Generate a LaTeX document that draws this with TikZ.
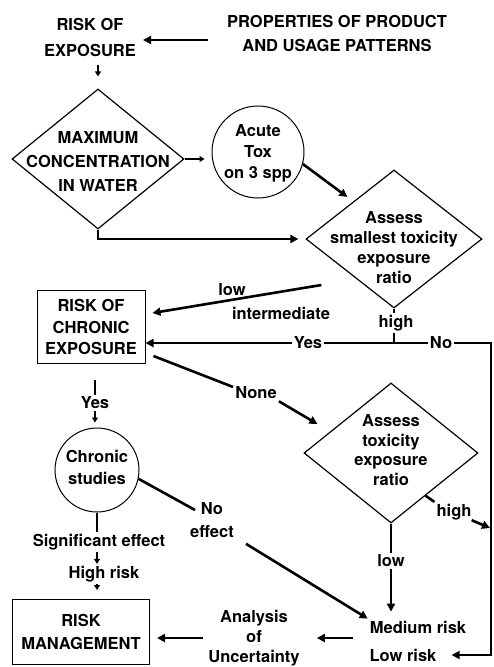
\documentclass[tikz,border=0pt]{standalone}
\usepackage{fontspec}
\setmainfont{TeX Gyre Heros}
\usetikzlibrary{shapes.geometric,arrows.meta}

\begin{document}
\begin{tikzpicture}[x=1pt,y=-1pt,
	txt/.style={font=\bfseries\fontsize{16.5}{#1}\selectfont, align=center, inner sep=2pt},
	txt/.default=24,
	dia/.style={draw, diamond, line width=1.2pt, inner sep=0pt},
	circ/.style={draw, circle, line width=1pt, inner sep=0pt},
	boxed/.style={draw, rectangle, line width=1pt},
	ln/.style={line width=2.6pt},
	arr/.style={ln, -{Triangle[length=8pt,width=8pt]}},
	smallarr/.style={ln, -{Triangle[length=5pt,width=6pt]}}]
		\useasboundingbox (0,0) rectangle (493,667);
		% shapes
		\node[dia, minimum width=172pt, minimum height=140pt] (maxd) at (98,159) {};
		\node[txt] (maxt) at (98,161) {MAXIMUM\\CONCENTRATION\\IN WATER};
		\node[circ, minimum size=92pt] (acute) at (258,152) {};
		\node[txt=21] (acutet) at (258,153) {Acute\\Tox\\on 3 spp};
		\node[dia, minimum width=176pt, minimum height=138pt] (assess1) at (394,239) {};
		\node[txt=20] (assess1t) at (394,248) {Assess\\smallest toxicity\\exposure\\ratio};
		\node[boxed, txt=21.5, minimum width=108pt, minimum height=73pt] (chronic) at (91,327) {RISK OF\\CHRONIC\\EXPOSURE};
		\node[dia, minimum width=174pt, minimum height=140pt] (assess2) at (391,453) {};
		\node[txt=19.5] (assess2t) at (391,450) {Assess\\toxicity\\exposure\\ratio};
		\node[circ, minimum size=84pt] (studies) at (97,470) {};
		\node[txt=22] (studiest) at (97,467) {Chronic\\studies};
		\node[boxed, txt=23, minimum width=137pt, minimum height=65pt] (manage) at (81,632) {RISK\\MANAGEMENT};
		% labels
		\node[txt=26] (exposure) at (90,37) {RISK OF\\EXPOSURE};
		\node[txt] (props) at (337,33) {PROPERTIES OF PRODUCT\\AND USAGE PATTERNS};
		\node[txt] (low1) at (232,290) {low};
		\node[txt] (inter) at (281,313) {intermediate};
		\node[txt] (high1) at (396,323) {high};
		\node[txt] (yes1) at (308,343) {Yes};
		\node[txt] (no1) at (441,343) {No};
		\node[txt] (none) at (256,393) {None};
		\node[txt] (yes2) at (95,403) {Yes};
		\node[txt=23] (noeff) at (212,520) {No\\effect};
		\node[txt] (signif) at (99,542) {Significant effect};
		\node[txt] (highrisk) at (104,574) {High risk};
		\node[txt] (high2) at (454,512) {high};
		\node[txt] (low2) at (391,561) {low};
		\node[txt] (medium) at (418,627) {Medium risk};
		\node[txt] (lowrisk) at (403,655) {Low risk};
		\node[txt=20] (analysis) at (254,638) {Analysis\\of\\Uncertainty};
		\coordinate (corner) at (491,343);
		\coordinate (hightip) at (490,528);
		% connectors
		\draw[arr] ([shift={(-17pt,-7pt)}]props.west) -- ([shift={(5pt,-3pt)}]exposure.east);
		\draw[smallarr, shorten <=7pt, shorten >=12pt] (maxd.north |- exposure.south) -- (maxd.north);
		\draw[smallarr, shorten >=7pt] (maxd.east) -- (acute.west |- maxd.east);
		\draw[arr] (acute.-15) -- ([shift={(42pt,42pt)}]assess1.west);
		\draw[arr, shorten >=7pt] (maxd.south) |- (assess1.west);
		\draw[arr] ([shift={(16pt,-46pt)}]assess1.west) -- ([shift={(7pt,14pt)}]chronic.east);
		\draw[ln] (assess1.south) -- (assess1.south |- high1.north);
		\draw[ln] (assess1.south |- high1.south) -- (assess1.south |- yes1);
		\draw[arr] (yes1.west) -- (chronic.east |- yes1);
		\draw[ln] (yes1.east) -- (no1.west);
		\draw[arr, shorten >=13pt] (no1.east) -- (corner) |- (lowrisk.east);
		\draw[ln] ([shift={(8pt,8pt)}]chronic.south east) -- ([yshift=6pt]none.west);
		\draw[arr] (none.south east) -- ([shift={(14pt,29pt)}]assess2.west);
		\draw[ln, shorten <=16pt] (yes2 |- chronic.south) -- (yes2.north);
		\draw[smallarr, shorten >=5pt] (yes2.south) -- (yes2.south |- studies.north);
		\draw[ln] (studies.south) -- (studies.south |- signif.north);
		\draw[smallarr] (studies.south |- signif.south) -- (studies.south |- highrisk.north);
		\draw[smallarr, shorten >=9pt] (studies.south |- highrisk.south) -- (studies.south |- manage.north);
		\draw[ln] (studies.-12) -- ([shift={(7pt,10pt)}]noeff.west);
		\draw[arr] ([shift={(10pt,-4pt)}]noeff.south east) -- (medium.north west);
		\draw[ln] (assess2.south) -- (assess2.south |- low2.north);
		\draw[arr, shorten >=7pt] (assess2.south |- low2.south) -- (assess2.south |- medium.north);
		\draw[ln] (assess2.-51) -- (high2.north west);
		\draw[arr] ([shift={(-2pt,2pt)}]high2.south east) -- (hightip);
		\draw[arr, shorten <=15pt, shorten >=15pt] (medium.west |- analysis.east) -- (analysis.east);
		\draw[arr, shorten <=3pt, shorten >=7pt] (analysis.west) -- (manage.east |- analysis.west);
\end{tikzpicture}
\end{document}
